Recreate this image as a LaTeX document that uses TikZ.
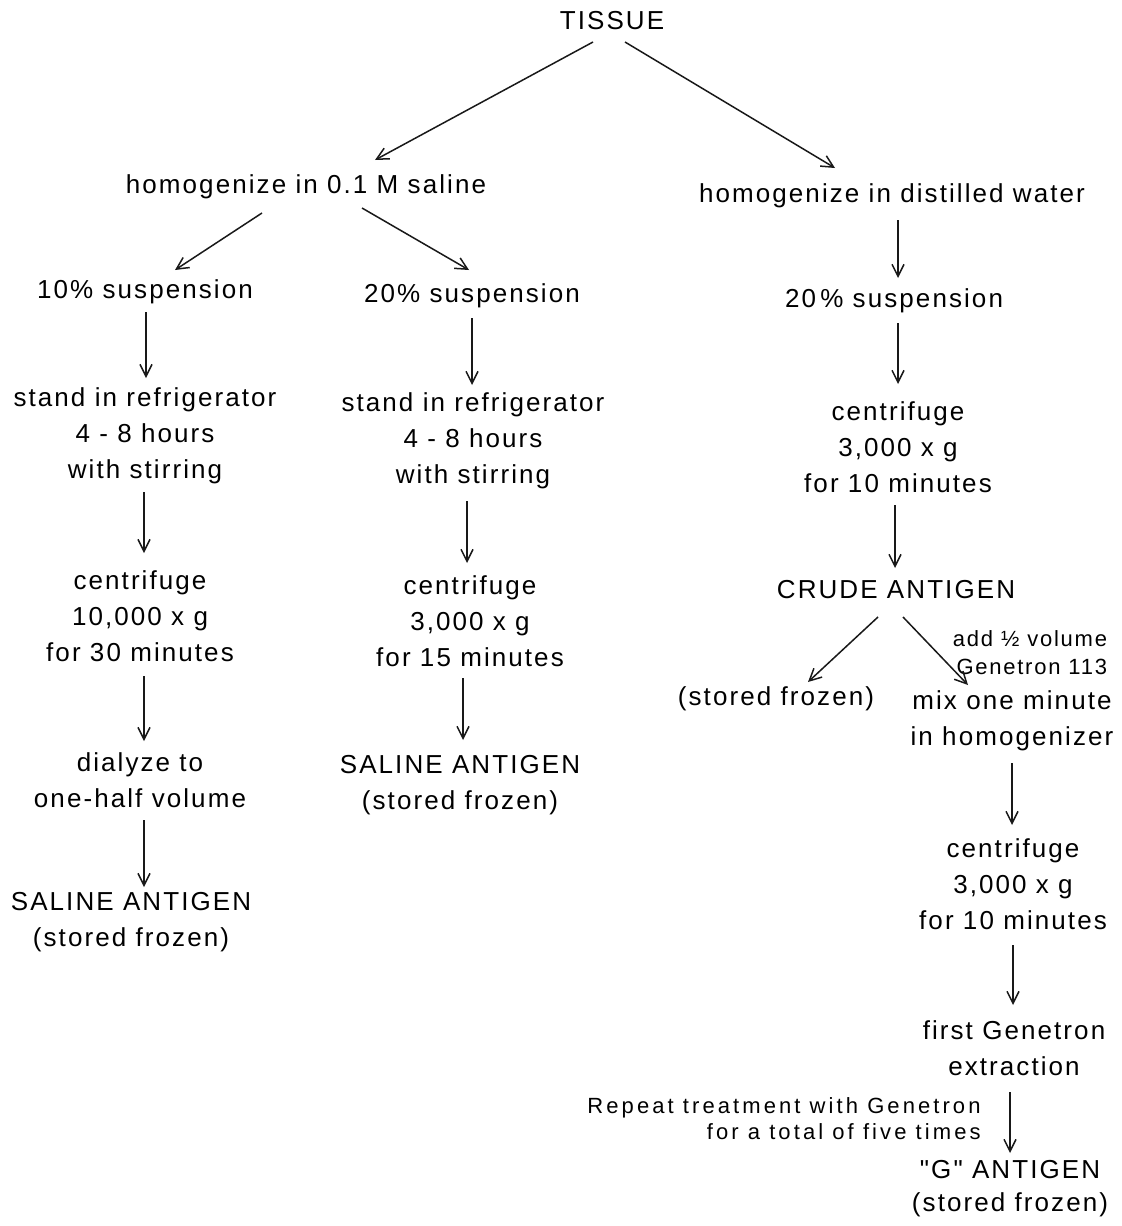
\documentclass[tikz,border=0pt]{standalone}
\usepackage{fontspec}
\newfontfamily\lettering[LetterSpace=8]{Liberation Sans}
\newfontfamily\widelettering[LetterSpace=14]{Liberation Sans}
\usetikzlibrary{arrows.meta, calc}

\begin{document}
\begin{tikzpicture}[
        x=0.5pt, y=-0.5pt,
        stage/.style={align=center, inner sep=0pt, font=\lettering\fontsize{13}{18}\selectfont},
        note/.style={align=right, inner sep=0pt, font=\lettering\fontsize{11}{14}\selectfont},
        widenote/.style={note, font=\widelettering\fontsize{11}{13}\selectfont},
        arrow/.style={-{Straight Barb[length=6pt,width=6pt]}, line width=0.75pt, draw=black!90}
    ]
        \useasboundingbox (0,0) rectangle (1121,1226);

        \node[stage] (tissue) at (612,21) {TISSUE};
        \node[stage] (saline) at (306,187) {homogenize in 0.1 M saline};
        \node[stage] (water) at (892,196) {homogenize in distilled water};

        \node[stage] (susLa) at (145,292) {10\% suspension};
        \node[stage] (susLb) at (472,296) {20\% suspension};
        \node[stage] (susR) at (894,301) {20\,\% suspension};

        \node[stage] (standA) at (145,436) {stand in refrigerator\\4 - 8 hours\\with stirring};
        \node[stage] (standB) at (473,441) {stand in refrigerator\\4 - 8 hours\\with stirring};
        \node[stage] (centR) at (898,447) {centrifuge\\3,000 x g\\for 10 minutes};

        \node[stage] (centA) at (140,616) {centrifuge\\10,000 x g\\for 30 minutes};
        \node[stage] (centB) at (470,621) {centrifuge\\3,000 x g\\for 15 minutes};
        \node[stage] (crude) at (896,590) {CRUDE ANTIGEN};

        \node[stage] (dialyze) at (140,780) {dialyze to\\one-half volume};
        \node[stage] (salA) at (131,922) {SALINE ANTIGEN\\(stored frozen)};
        \node[stage] (salB) at (460,785) {SALINE ANTIGEN\\(stored frozen)};

        \node[stage] (frozen) at (776,699) {(stored frozen)};
        \node[note] (add) at (1030,653) {add ½ volume\\Genetron 113};
        \node[stage] (mix) at (1012,721) {mix one minute\\in homogenizer};
        \node[stage] (centC) at (1013,884) {centrifuge\\3,000 x g\\for 10 minutes};
        \node[stage] (first) at (1014,1048) {first Genetron\\extraction};
        \node[widenote] (repeat) at (784,1119) {Repeat treatment with Genetron\\for a total of five times};
        \node[stage] (gant) at (1010,1189) {"G" ANTIGEN\\[-1.5pt](stored frozen)};

        % saline branch
        \draw[arrow] ($(tissue)+(-19,21)$) -- ($(saline)+(69,-27)$);
        \draw[arrow] ($(saline)+(-44,26)$) -- ($(susLa)+(30,-22)$);
        \draw[arrow] ($(saline)+(56,21)$) -- ($(susLb)+(-3,-26)$);
        \draw[arrow] ($(susLa)+(1,20)$) -- ($(standA)+(1,-58)$);
        \draw[arrow] ($(susLb)+(0,22)$) -- ($(standB)+(-1,-56)$);
        \draw[arrow] ($(standA)+(-1,56)$) -- ($(centA)+(4,-63)$);
        \draw[arrow] ($(standB)+(-6,60)$) -- ($(centB)+(-3,-58)$);
        \draw[arrow] ($(centA)+(4,60)$) -- ($(dialyze)+(4,-39)$);
        \draw[arrow] ($(centB)+(-7,57)$) -- ($(salB)+(3,-45)$);
        \draw[arrow] ($(dialyze)+(4,40)$) -- ($(salA)+(13,-35)$);

        % water branch
        \draw[arrow] ($(tissue)+(13,21)$) -- ($(water)+(-57,-28)$);
        \draw[arrow] ($(water)+(6,24)$) -- ($(susR)+(4,-23)$);
        \draw[arrow] ($(susR)+(4,22)$) -- ($(centR)+(0,-63)$);
        \draw[arrow] ($(centR)+(-3,58)$) -- ($(crude)+(-1,-22)$);
        \draw[arrow] ($(crude)+(-18,27)$) -- ($(frozen)+(32,-17)$);
        \draw[arrow] ($(crude)+(7,27)$) -- ($(mix)+(-44,-36)$);
        \draw[arrow] ($(mix)+(0,42)$) -- ($(centC)+(-1,-59)$);
        \draw[arrow] ($(centC)+(0,61)$) -- ($(first)+(-1,-43)$);
        \draw[arrow] ($(first)+(-4,44)$) -- ($(gant)+(0,-36)$);
    \end{tikzpicture}
\end{document}
